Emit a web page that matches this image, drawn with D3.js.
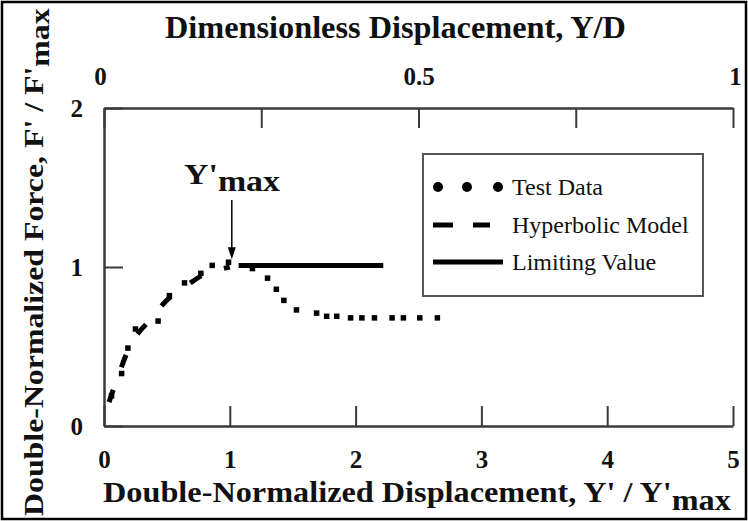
<!DOCTYPE html>
<html>
<head>
<meta charset="utf-8">
<script src="https://cdn.jsdelivr.net/npm/d3@7/dist/d3.min.js"></script>
<style>
  html, body { margin: 0; padding: 0; background: #fff; }
  svg { display: block; }
  text { font-family: "Liberation Serif", "Times New Roman", serif; fill: #111; }
</style>
</head>
<body>
<svg id="chart" width="748" height="521"></svg>
<script>
// Test data: double-normalized displacement vs force
const testX = [0.06, 0.14, 0.19, 0.25, 0.43, 0.52, 0.64, 0.77, 0.86, 0.99,
               1.18, 1.30, 1.37, 1.43, 1.53, 1.69, 1.77, 1.85, 1.96, 2.05,
               2.15, 2.29, 2.38, 2.51, 2.65];
const testY = [0.19, 0.33, 0.49, 0.61, 0.66, 0.82, 0.90, 0.96, 1.01, 1.03,
               0.99, 0.93, 0.86, 0.79, 0.73, 0.71, 0.69, 0.69, 0.68, 0.68,
               0.68, 0.68, 0.68, 0.68, 0.68];

// Hyperbolic model curve
const modelX = [0.04, 0.07, 0.12, 0.18, 0.25, 0.345, 0.45, 0.54, 0.65, 0.80, 0.90, 1.00];
const modelY = [0.15, 0.22, 0.33, 0.455, 0.56, 0.65, 0.75, 0.82, 0.88, 0.955, 0.98, 1.00];

// Limiting value line
const limitX = [1.07, 2.22];
const limitY = [1.01, 1.01];

// Peak marker
const peakX = 1.0;
const peakY = 1.03;

// Tick values
const bottomTicks = [0, 1, 2, 3, 4, 5];
const topTicks = [0, 0.25, 0.5, 0.75, 1];
const topLabels = ["0", "", "0.5", "", "1"];
const leftTicks = [0, 1, 2];

const legendItems = ["Test Data", "Hyperbolic Model", "Limiting Value"];

const svg = d3.select("#chart");
const W = 748, H = 521;

// Scale a horizontal text block so its ink spans the given width from x0
function fitWidth(sel, x0, width) {
  const bb = sel.node().getBBox();
  const k = width / bb.width;
  const yb = +sel.attr("y");
  sel.attr("x", 0).attr("y", 0)
    .attr("transform", `translate(${x0},${yb}) scale(${k},1)`);
}

// Outer frame
svg.append("rect")
  .attr("x", 2).attr("y", 2).attr("width", W - 4).attr("height", H - 4)
  .attr("fill", "none").attr("stroke", "#000").attr("stroke-width", 2.5);

const x = d3.scaleLinear().domain([0, 5]).range([104, 733]);
const xTop = d3.scaleLinear().domain([0, 1]).range([104, 733]);
const y = d3.scaleLinear().domain([0, 2]).range([426, 108]);

const axisColor = "#3a3a3a";

function styleAxis(g) {
  g.selectAll(".domain").attr("stroke", axisColor).attr("stroke-width", 2.5);
  g.selectAll(".tick line").attr("stroke", axisColor).attr("stroke-width", 2);
  g.selectAll(".tick text")
    .attr("fill", "#111")
    .style("font-family", '"Liberation Serif", serif')
    .style("font-weight", "bold")
    .style("font-size", "25px");
}

// Bottom axis
const gB = svg.append("g").attr("transform", `translate(0,${y(0)})`)
  .call(d3.axisBottom(x).tickValues(bottomTicks).tickFormat(d3.format("d"))
    .tickSizeInner(-20).tickSizeOuter(0).tickPadding(24));
styleAxis(gB);

// Top axis
const gT = svg.append("g").attr("transform", `translate(0,${y(2)})`)
  .call(d3.axisTop(xTop).tickValues(topTicks).tickFormat((d, i) => topLabels[i])
    .tickSizeInner(-20).tickSizeOuter(0).tickPadding(23));
styleAxis(gT);
gT.selectAll(".tick text").attr("dx", (d) => d === 0 ? -4 : (d === 1 ? 2 : 0));

// Left axis
const gL = svg.append("g").attr("transform", `translate(${x(0)},0)`)
  .call(d3.axisLeft(y).tickValues(leftTicks).tickFormat(d3.format("d"))
    .tickSizeInner(-19).tickSizeOuter(0).tickPadding(21));
styleAxis(gL);

// Hyperbolic model (dashed)
const line = d3.line().x(d => x(d[0])).y(d => y(d[1])).curve(d3.curveMonotoneX);
svg.append("path")
  .datum(modelX.map((v, i) => [v, modelY[i]]))
  .attr("d", line)
  .attr("fill", "none").attr("stroke", "#000").attr("stroke-width", 5)
  .attr("stroke-dasharray", "13,24");

// Limiting value
svg.append("path")
  .datum(limitX.map((v, i) => [v, limitY[i]]))
  .attr("d", d3.line().x(d => x(d[0])).y(d => y(d[1])))
  .attr("fill", "none").attr("stroke", "#000").attr("stroke-width", 5);

// Test data squares
const s = 5.5;
svg.append("g").selectAll("rect")
  .data(testX.map((v, i) => [v, testY[i]]))
  .join("rect")
  .attr("x", d => x(d[0]) - s / 2).attr("y", d => y(d[1]) - s / 2)
  .attr("width", s).attr("height", s).attr("fill", "#000");

// Peak annotation
const ax = x(peakX) + 2;
svg.append("line")
  .attr("x1", ax).attr("x2", ax).attr("y1", 200).attr("y2", y(peakY) - 12)
  .attr("stroke", "#000").attr("stroke-width", 1.5);
svg.append("path")
  .attr("d", `M${ax - 4},${y(peakY) - 15} L${ax + 4},${y(peakY) - 15} L${ax},${y(peakY) - 3} Z`)
  .attr("fill", "#000");
const ann = svg.append("text").attr("x", 184).attr("y", 184)
  .style("font-weight", "bold").style("font-size", "30px");
ann.append("tspan").text("Y'");
ann.append("tspan").attr("dy", 7).text("max");
fitWidth(ann, 184, 96);

// Legend
const lg = svg.append("g");
lg.append("rect").attr("x", 423).attr("y", 154).attr("width", 280).attr("height", 142)
  .attr("fill", "#fff").attr("stroke", "#555").attr("stroke-width", 2);
const rowY = [187, 225, 262];
[438, 467, 498].forEach(cx => lg.append("circle").attr("cx", cx).attr("cy", rowY[0]).attr("r", 5).attr("fill", "#000"));
[[433, 453], [473, 490]].forEach(p => lg.append("line")
  .attr("x1", p[0]).attr("x2", p[1]).attr("y1", rowY[1]).attr("y2", rowY[1])
  .attr("stroke", "#000").attr("stroke-width", 5));
lg.append("line").attr("x1", 433).attr("x2", 503).attr("y1", rowY[2]).attr("y2", rowY[2])
  .attr("stroke", "#000").attr("stroke-width", 5);
legendItems.forEach((t, i) => lg.append("text")
  .attr("x", 512).attr("y", rowY[i] + 8)
  .style("font-size", "24px").text(t));

// Axis titles
const title = svg.append("text").attr("x", 165).attr("y", 38)
  .style("font-weight", "bold").style("font-size", "32px")
  .text("Dimensionless Displacement, Y/D");
fitWidth(title, 165, 461);

const xt = svg.append("text").attr("x", 103).attr("y", 502)
  .style("font-weight", "bold").style("font-size", "30px");
xt.append("tspan").text("Double-Normalized Displacement, Y' / Y'");
xt.append("tspan").attr("dy", 8).text("max");
fitWidth(xt, 103, 628);

// Rotated y title, stretched along its length
const yt = svg.append("text")
  .style("font-weight", "bold").style("font-size", "28px");
yt.append("tspan").text("Double-Normalized Force, F' / F'");
yt.append("tspan").attr("dy", 6).text("max");
{
  const bb = yt.node().getBBox();
  const k = 508 / bb.width;
  yt.attr("transform", `translate(43,516) rotate(-90) scale(${k},1)`);
}
</script>
</body>
</html>
